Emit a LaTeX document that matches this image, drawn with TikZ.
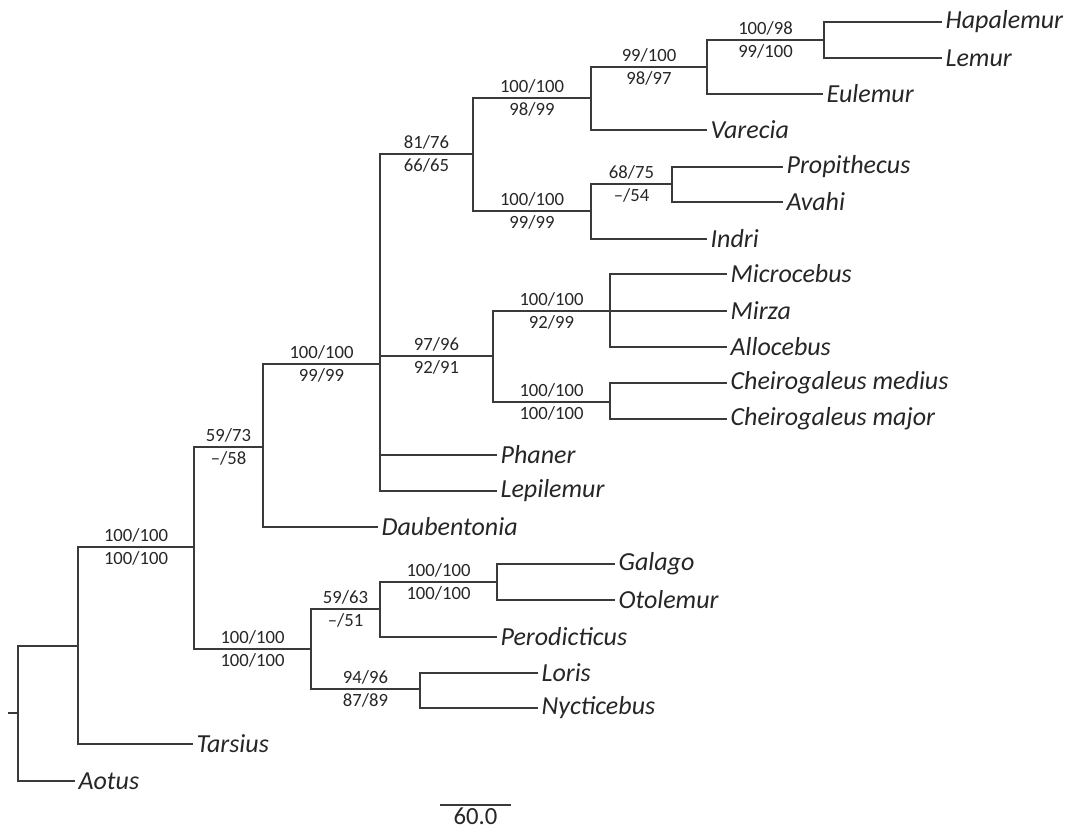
\documentclass[tikz,border=0pt]{standalone}
\usepackage{fontspec}
\setmainfont{Carlito}
\definecolor{treegray}{HTML}{3A3A3A}

\begin{document}
\begin{tikzpicture}
    [x=0.75pt, y=-0.75pt,
    branch/.style={draw=treegray, line width=1.5pt},
    every node/.style={text=black!85},
    taxon/.style={anchor=west, inner sep=2.5pt, font=\fontsize{19.5}{19.5}\selectfont\itshape},
    supup/.style={pos=0.75, above, inner sep=3pt, font=\fontsize{14}{14}\selectfont},
    supdown/.style={pos=0.75, below, inner sep=3pt, font=\fontsize{14}{14}\selectfont}
    ]
    \useasboundingbox (0,0) rectangle (1073,834);

    % internal nodes
    \coordinate (stem) at (8,713);
    \coordinate (root) at (18,713);
    \coordinate (primates) at (78,646);
    \coordinate (strep) at (194,547);
    \coordinate (lemuri) at (263,447);
    \coordinate (lemurcore) at (380,364);
    \coordinate (lemfam) at (473,154);
    \coordinate (lemuridae) at (591,98);
    \coordinate (lemurini) at (707,67);
    \coordinate (hapalem) at (824,40);
    \coordinate (indriidae) at (591,211);
    \coordinate (avahini) at (672,184);
    \coordinate (cheiro) at (493,356);
    \coordinate (microc) at (610,311);
    \coordinate (cheirog) at (610,402);
    \coordinate (lorisi) at (311,649);
    \coordinate (galagi) at (380,609);
    \coordinate (galago) at (497,582);
    \coordinate (lorisidae) at (420,689);

    % taxa
    \node (Aotus) [taxon] at (75,781) {Aotus};
    \node (Tarsius) [taxon] at (193,744) {Tarsius};
    \node (Daubentonia) [taxon] at (378,527) {Daubentonia};
    \node (Phaner) [taxon] at (497,455) {Phaner};
    \node (Lepilemur) [taxon] at (497,491) {Lepilemur};
    \node (Hapalemur) [taxon] at (942,22) {Hapalemur};
    \node (Lemur) [taxon] at (942,58) {Lemur};
    \node (Eulemur) [taxon] at (823,94) {Eulemur};
    \node (Varecia) [taxon] at (707,130) {Varecia};
    \node (Propithecus) [taxon] at (783,167) {Propithecus};
    \node (Avahi) [taxon] at (783,202) {Avahi};
    \node (Indri) [taxon] at (707,239) {Indri};
    \node (Microcebus) [taxon] at (727,274) {Microcebus};
    \node (Mirza) [taxon] at (727,311) {Mirza};
    \node (Allocebus) [taxon] at (727,347) {Allocebus};
    \node (Cmedius) [taxon] at (727,383) {Cheirogaleus medius};
    \node (Cmajor) [taxon] at (727,419) {Cheirogaleus major};
    \node (Galago) [taxon] at (615,564) {Galago};
    \node (Otolemur) [taxon] at (615,600) {Otolemur};
    \node (Perodicticus) [taxon] at (497,637) {Perodicticus};
    \node (Loris) [taxon] at (538,673) {Loris};
    \node (Nycticebus) [taxon] at (538,708) {Nycticebus};

    % branches
    \draw [branch] (stem) -- (root);
    \draw [branch] (root) |- (primates);
    \draw [branch] (root) |- (Aotus.west);
    \draw [branch] (primates) |- (strep) node [supup] {100/100} node [supdown] {100/100};
    \draw [branch] (primates) |- (Tarsius.west);
    \draw [branch] (strep) |- (lemuri) node [supup] {59/73} node [supdown] {--/58};
    \draw [branch] (strep) |- (lorisi) node [supup] {100/100} node [supdown] {100/100};
    \draw [branch] (lemuri) |- (lemurcore) node [supup] {100/100} node [supdown] {99/99};
    \draw [branch] (lemuri) |- (Daubentonia.west);
    \draw [branch] (lemurcore) |- (lemfam) node [supup] {81/76} node [supdown] {66/65};
    \draw [branch] (lemurcore) |- (cheiro) node [supup] {97/96} node [supdown] {92/91};
    \draw [branch] (lemurcore) |- (Phaner.west);
    \draw [branch] (lemurcore) |- (Lepilemur.west);
    \draw [branch] (lemfam) |- (lemuridae) node [supup] {100/100} node [supdown] {98/99};
    \draw [branch] (lemfam) |- (indriidae) node [supup] {100/100} node [supdown] {99/99};
    \draw [branch] (lemuridae) |- (lemurini) node [supup] {99/100} node [supdown] {98/97};
    \draw [branch] (lemuridae) |- (Varecia.west);
    \draw [branch] (lemurini) |- (hapalem) node [supup] {100/98} node [supdown] {99/100};
    \draw [branch] (lemurini) |- (Eulemur.west);
    \draw [branch] (hapalem) |- (Hapalemur.west);
    \draw [branch] (hapalem) |- (Lemur.west);
    \draw [branch] (indriidae) |- (avahini) node [supup] {68/75} node [supdown] {--/54};
    \draw [branch] (indriidae) |- (Indri.west);
    \draw [branch] (avahini) |- (Propithecus.west);
    \draw [branch] (avahini) |- (Avahi.west);
    \draw [branch] (cheiro) |- (microc) node [supup] {100/100} node [supdown] {92/99};
    \draw [branch] (cheiro) |- (cheirog) node [supup] {100/100} node [supdown] {100/100};
    \draw [branch] (microc) |- (Microcebus.west);
    \draw [branch] (microc) |- (Mirza.west);
    \draw [branch] (microc) |- (Allocebus.west);
    \draw [branch] (cheirog) |- (Cmedius.west);
    \draw [branch] (cheirog) |- (Cmajor.west);
    \draw [branch] (lorisi) |- (galagi) node [supup] {59/63} node [supdown] {--/51};
    \draw [branch] (lorisi) |- (lorisidae) node [supup] {94/96} node [supdown] {87/89};
    \draw [branch] (galagi) |- (galago) node [supup] {100/100} node [supdown] {100/100};
    \draw [branch] (galagi) |- (Perodicticus.west);
    \draw [branch] (galago) |- (Galago.west);
    \draw [branch] (galago) |- (Otolemur.west);
    \draw [branch] (lorisidae) |- (Loris.west);
    \draw [branch] (lorisidae) |- (Nycticebus.west);

    % scale bar
    \coordinate (scaleL) at (440,805);
    \coordinate (scaleR) at (511,805);
    \draw [branch] (scaleL) -- (scaleR) node [midway, below, inner sep=1.5pt, font=\fontsize{18.5}{18.5}\selectfont] {60.0};
\end{tikzpicture}
\end{document}
